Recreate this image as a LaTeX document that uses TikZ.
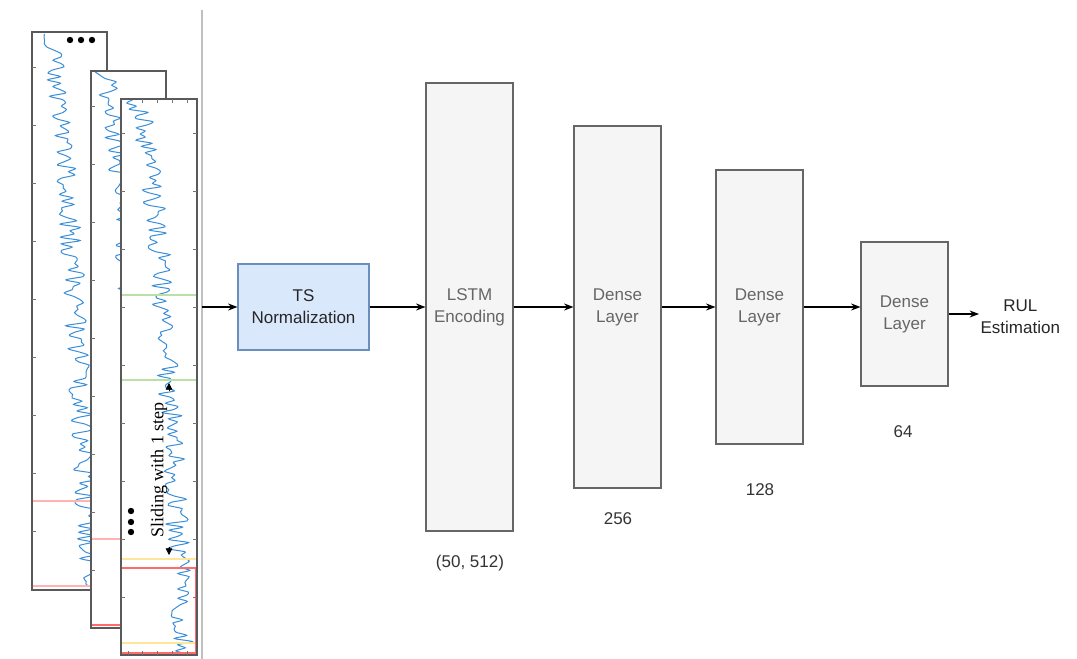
\documentclass[tikz,border=0pt]{standalone}
\usepackage{fontspec}
\setmainfont{Liberation Sans}
\newfontfamily\slidefont{Liberation Serif}
\usetikzlibrary{arrows.meta,positioning}

\definecolor{normfill}{HTML}{DAE8FC}
\definecolor{normline}{HTML}{6C8EBF}
\definecolor{layerfill}{HTML}{F5F5F5}
\definecolor{layerline}{HTML}{666666}
\definecolor{signalblue}{HTML}{3B8ED8}
\definecolor{winred}{HTML}{FF6B6B}
\definecolor{winpink}{HTML}{FFB3B3}
\definecolor{wingreen}{HTML}{B9E0A5}
\definecolor{winyellow}{HTML}{FFE599}

\begin{document}
\begin{tikzpicture}[
  x=0.75pt, y=-0.75pt,
  >=Stealth,
  font=\fontsize{12.75}{16.5}\selectfont,
  frame/.style={draw=black!65, line width=0.9pt},
  tick/.style={draw=black!55, line width=0.7pt},
  signal/.style={draw=signalblue, line width=0.75pt},
  norm/.style={draw=normline, fill=normfill, line width=0.8pt, align=center,
               text=black!85, minimum width=98.25pt, minimum height=64.5pt},
  layer/.style={draw=layerline, fill=layerfill, line width=0.8pt, align=center,
                text=black!60, minimum width=65.25pt},
  lab/.style={text=black!80},
  flow/.style={->, line width=0.9pt}
]
\useasboundingbox (0,0) rectangle (1077,659);

% --- separator behind the input windows
\draw[black!25, line width=0.8pt] (202,10) -- (202,659);

% --- window 1 (back)
\fill[white] (32,32) rectangle (107,590);
\begin{scope}
  \clip (32,32) rectangle (107,590);
  \pgfmathsetseed{11}
  \draw[signal] plot[smooth, tension=0.45, samples=170, domain=34:588, variable=\t]
    ({44+45*sqrt(max(\t-34,0)/554)+11*rand}, \t);
\end{scope}
\draw[winpink, line width=0.8pt] (32,501) rectangle (107,586);
\draw[frame] (32,32) rectangle (107,590);
\foreach \y in {67,125,...,540}
   \draw[tick] (32,\y) -- ++(4,0);
\foreach \x in {70,81,92}
   \fill (\x,40) circle (3.2);

% --- window 2 (middle)
\fill[white] (91,71) rectangle (166,628);
\begin{scope}
  \clip (91,71) rectangle (166,628);
  \pgfmathsetseed{23}
  \draw[signal] plot[smooth, tension=0.45, samples=170, domain=72:626, variable=\t]
    ({101+45*sqrt(max(\t-72,0)/554)+11*rand}, \t);
\end{scope}
\draw[winpink, line width=0.8pt] (91,539) rectangle (166,625);
\draw[winred, line width=0.8pt] (91,625) -- (121,625);
\draw[frame] (91,71) rectangle (166,628);
\foreach \y in {106,164,...,600}
   \draw[tick] (91,\y) -- ++(4,0);

% --- window 3 (front)
\fill[white] (121,99) rectangle (197,655);
\begin{scope}
  \clip (121,99) rectangle (197,655);
  \pgfmathsetseed{5}
  \draw[signal] plot[smooth, tension=0.45, samples=180, domain=100:654, variable=\t]
    ({133+50*sqrt(max(\t-100,0)/554)+11*rand}, \t);
\end{scope}
\draw[wingreen, line width=0.9pt] (121,295) rectangle (197,380);
\draw[winyellow, line width=0.9pt] (121,559) rectangle (197,643);
\draw[winred, line width=0.9pt] (121,568) rectangle (196,653);
\draw[frame] (121,99) rectangle (197,655);
\foreach \y in {133,191,...,640}{
   \draw[tick] (121,\y) -- ++(4,0);
   \draw[tick] (197,\y) -- ++(-4,0);
}
\foreach \x in {142,157,172,187}
   \draw[tick] (\x,99) -- ++(0,4);
\foreach \x in {128,142,157,172,187}
   \draw[tick] (\x,655) -- ++(0,-4);
\foreach \y in {511,522,532}
   \fill (131,\y) circle (3.2);

% --- sliding annotation
\node[rotate=90, font=\slidefont\fontsize{13.5}{15}\selectfont] (slide) at (159,470) {Sliding with 1 step};
\coordinate (slideUp) at (169,383);
\coordinate (slideDown) at (169,555);
\draw[-{Triangle[length=5pt,width=5pt]}, line width=0.6pt] (169,391) -- (slideUp);
\draw[-{Triangle[length=5pt,width=5pt]}, line width=0.6pt] (169,547) -- (slideDown);

% --- model blocks
\coordinate (input) at (202,307);
\node[norm] (ts) at (303.5,307) {TS\\Normalization};
\node[layer, minimum height=336pt] (lstm) at (469.5,307) {LSTM\\Encoding};
\node[layer, minimum height=271.5pt] (dense1) at (617.5,307) {Dense\\Layer};
\node[layer, minimum height=205.5pt] (dense2) at (759.5,307) {Dense\\Layer};
\node[layer, minimum height=108pt] (dense3) at (904.5,314) {Dense\\Layer};
\node[align=center, inner sep=1pt, anchor=west, text=black!85] (rul) at (979,317) {RUL\\Estimation};

% --- output sizes
\node[lab] (lstmSize) at (470,563) {(50, 512)};
\node[lab] (d1Size) at (618,519) {256};
\node[lab] (d2Size) at (760,490) {128};
\node[lab] (d3Size) at (903,432) {64};

% --- flow
\draw[flow] (input) -- (ts);
\draw[flow] (ts) -- (lstm);
\draw[flow] (lstm) -- (dense1);
\draw[flow] (dense1) -- (dense2);
\draw[flow] (dense2.east) -- (dense2.east -| dense3.west);
\draw[flow] (dense3.east) -- (dense3.east -| rul.west);

\end{tikzpicture}
\end{document}
